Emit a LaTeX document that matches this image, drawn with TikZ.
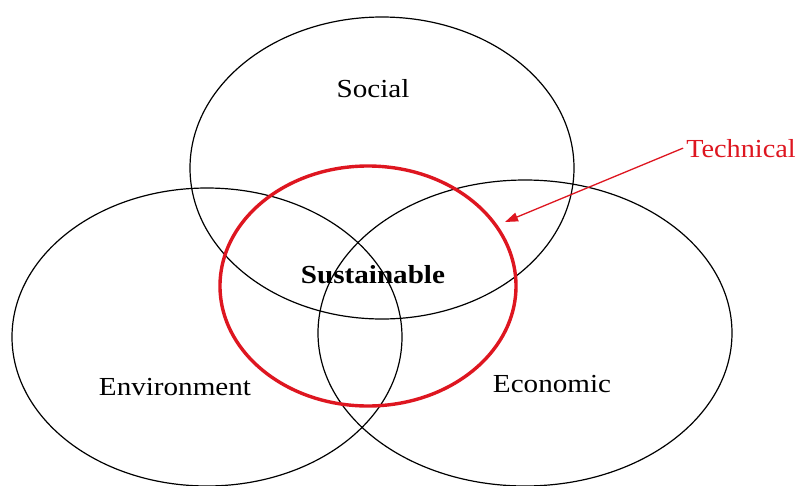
\documentclass[tikz,border=0pt]{standalone}
\usepackage{fontspec}
\setmainfont{Liberation Serif}
\usetikzlibrary{shapes.geometric,arrows.meta}
\definecolor{techred}{RGB}{222,22,32}
\tikzset{
  vennset/.style={draw=black, line width=1.2pt, ellipse, inner sep=0pt},
  techring/.style={draw=techred, line width=3.4pt, ellipse, inner sep=0pt},
  vtext/.style={anchor=base, inner sep=0pt, xscale=1.12,
    font=\fontsize{26}{30}\selectfont},
  pointer/.style={draw=techred, line width=1.3pt,
    -{Triangle[length=13pt,width=9pt]}}
}
\begin{document}
\begin{tikzpicture}[x=1pt,y=-1pt]
  \useasboundingbox[fill=white] (0,0) rectangle (801,485);
  % the three domains
  \node[vennset, minimum width=384pt, minimum height=302pt] (social) at (382,168) {};
  \node[vennset, minimum width=390pt, minimum height=298pt] (env) at (207,337) {};
  \node[vennset, minimum width=414pt, minimum height=306pt] (econ) at (525,333) {};
  % technical ring
  \node[techring, minimum width=296pt, minimum height=240pt] (tech) at (368,286) {};
  % labels
  \node[vtext] (lsocial) at (373,97) {Social};
  \node[vtext] (lenv) at (175,395) {Environment};
  \node[vtext] (lecon) at (552,392) {Economic};
  \node[vtext, font=\fontsize{26}{30}\selectfont\bfseries] (lsus) at (373,283) {Sustainable};
  \node[vtext, text=techred, xscale=0.97] (ltech) at (741,157) {Technical};
  % pointer to the technical ring
  \coordinate (tip) at (505,222);
  \coordinate (tail) at ([xshift=-3pt]ltech.west);
  \draw[pointer] (tail) -- (tip);
\end{tikzpicture}
\end{document}
